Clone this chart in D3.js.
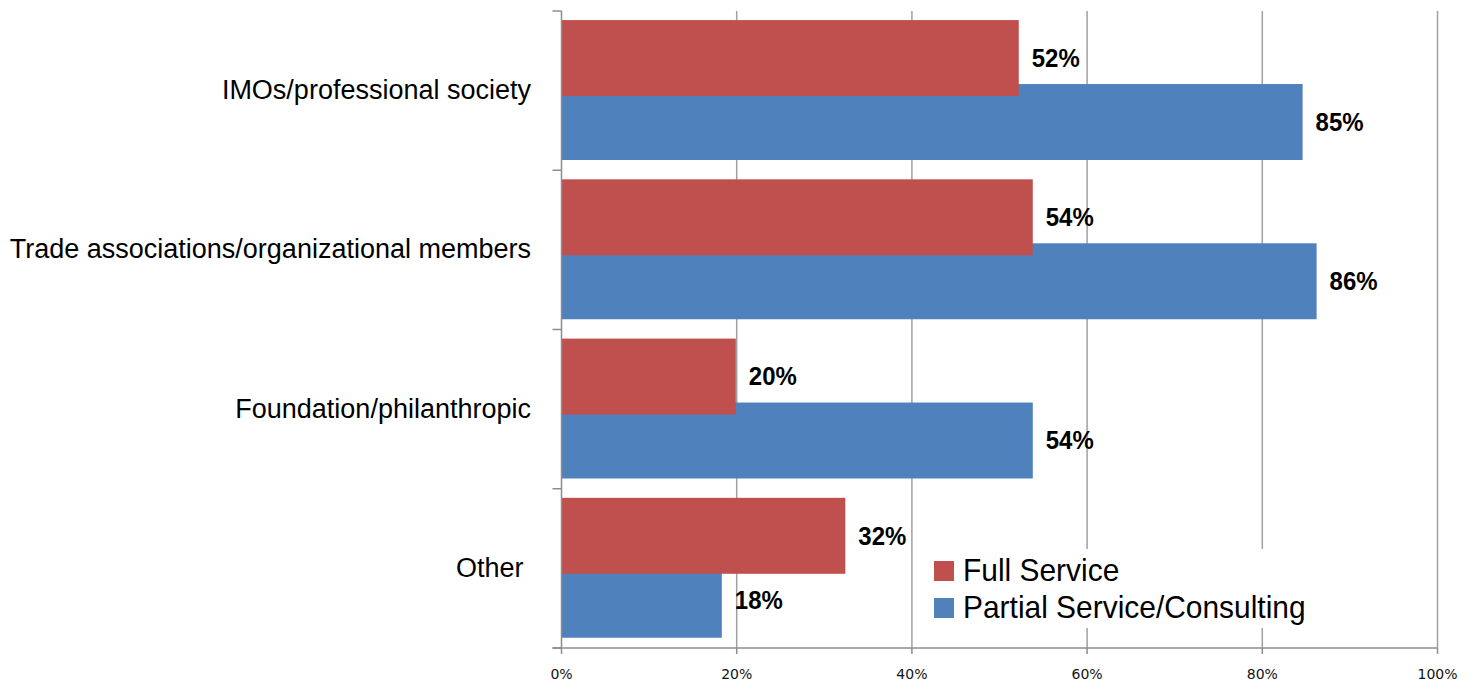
<!DOCTYPE html>
<html>
<head>
<meta charset="utf-8">
<script src="https://cdn.jsdelivr.net/npm/d3@7"></script>
<style>
  body { margin: 0; background: #fff; }
  .narrow { font-family: "Liberation Sans Narrow", "Arial Narrow", "Liberation Sans", Arial, sans-serif; }
</style>
</head>
<body>
<svg id="chart" width="1475" height="682"></svg>
<script>
// chart data
const categories = ["IMOs/professional society", "Trade associations/organizational members", "Foundation/philanthropic", "Other "];
const seriesNames = ["Full Service", "Partial Service/Consulting"];
const fullService = [0.522, 0.538, 0.199, 0.324];
const partialService = [0.846, 0.862, 0.538, 0.183];
const fullLabels = ["52%", "54%", "20%", "32%"];
const partialLabels = ["85%", "86%", "54%", "18%"];
const xTicks = [0, 0.2, 0.4, 0.6, 0.8, 1.0];

const colors = { full: "#C0504D", partial: "#4F81BD" };

const svg = d3.select("#chart");

const plotLeft = 561.5, plotRight = 1437.5, plotTop = 11, plotBottom = 648;

const x = d3.scaleLinear().domain([0, 1]).range([plotLeft, plotRight]);
const y = d3.scaleBand().domain(categories).range([plotTop, plotBottom]).padding(0);

const barH = y.bandwidth() * 0.477;      // ~76px
const redOff = y.bandwidth() * 0.057;    // gap above first bar
const blueOff = redOff + barH * 0.842;   // overlap between the two bars

// vertical gridlines
svg.append("g")
    .selectAll("line")
    .data(xTicks.slice(1))
    .enter().append("line")
    .attr("x1", d => x(d)).attr("x2", d => x(d))
    .attr("y1", plotTop).attr("y2", plotBottom)
    .attr("stroke", "#a0a0a0")
    .attr("stroke-width", 1.5);

// bars: blue first, red drawn on top
const rows = categories.map((c, i) => ({ cat: c, full: fullService[i], partial: partialService[i], fl: fullLabels[i], pl: partialLabels[i] }));

svg.append("g").selectAll("rect")
    .data(rows).enter().append("rect")
    .attr("x", x(0))
    .attr("y", d => y(d.cat) + blueOff)
    .attr("width", d => x(d.partial) - x(0))
    .attr("height", barH)
    .attr("fill", colors.partial);

svg.append("g").selectAll("rect")
    .data(rows).enter().append("rect")
    .attr("x", x(0))
    .attr("y", d => y(d.cat) + redOff)
    .attr("height", barH)
    .attr("width", d => x(d.full) - x(0))
    .attr("fill", colors.full);

// value labels (slightly condensed, like Arial Narrow)
const squeeze = 0.94;
const labelG = svg.append("g").attr("class", "narrow")
    .attr("font-weight", "bold").attr("font-size", 25.5).attr("fill", "#000");

labelG.selectAll(".lf").data(rows).enter().append("text")
    .attr("transform", d => `translate(${x(d.full) + 13},${y(d.cat) + redOff + barH / 2}) scale(${squeeze},1)`)
    .attr("dy", "0.35em")
    .text(d => d.fl);

labelG.selectAll(".lp").data(rows).enter().append("text")
    .attr("transform", d => `translate(${x(d.partial) + 13},${y(d.cat) + blueOff + barH / 2}) scale(${squeeze},1)`)
    .attr("dy", "0.35em")
    .text(d => d.pl);

// left axis
const axisColor = "#8c8c8c";
svg.append("line")
    .attr("x1", plotLeft).attr("x2", plotLeft).attr("y1", plotTop).attr("y2", plotBottom)
    .attr("stroke", axisColor).attr("stroke-width", 1.5);
const bounds = categories.map(c => y(c)).concat([plotBottom]);
svg.append("g").selectAll("line").data(bounds).enter().append("line")
    .attr("x1", plotLeft - 9).attr("x2", plotLeft)
    .attr("y1", d => d).attr("y2", d => d)
    .attr("stroke", axisColor).attr("stroke-width", 1.5);

// bottom axis
svg.append("line")
    .attr("x1", plotLeft - 9).attr("x2", plotRight).attr("y1", plotBottom).attr("y2", plotBottom)
    .attr("stroke", axisColor).attr("stroke-width", 1.5);
svg.append("g").selectAll("line").data(xTicks).enter().append("line")
    .attr("x1", d => x(d)).attr("x2", d => x(d))
    .attr("y1", plotBottom).attr("y2", plotBottom + 6)
    .attr("stroke", axisColor).attr("stroke-width", 1.5);
svg.append("g").selectAll("text").data(xTicks).enter().append("text")
    .attr("x", d => x(d))
    .attr("y", 679)
    .attr("text-anchor", "middle")
    .attr("font-family", "'DejaVu Sans', sans-serif")
    .attr("font-size", 14)
    .attr("fill", "#111")
    .text(d3.format(".0%"));

// category labels
svg.append("g").attr("class", "narrow")
    .selectAll("text").data(categories).enter().append("text")
    .attr("x", 531)
    .attr("y", d => y(d) + y.bandwidth() / 2 - 1)
    .attr("dy", "0.35em")
    .attr("text-anchor", "end")
    .attr("font-size", 27)
    .attr("fill", "#000")
    .style("white-space", "pre")
    .text(d => d);

// legend, white box hides the gridlines behind it
const legend = svg.append("g").attr("class", "narrow");
legend.append("rect")
    .attr("x", 922).attr("y", 549).attr("width", 395).attr("height", 79)
    .attr("fill", "#fff");
const legendItems = [
    { name: seriesNames[0], color: colors.full },
    { name: seriesNames[1], color: colors.partial }
];
legendItems.forEach((it, i) => {
    legend.append("rect")
        .attr("x", 934).attr("y", 561 + i * 37)
        .attr("width", 20).attr("height", 20)
        .attr("fill", it.color);
    legend.append("text")
        .attr("transform", `translate(963,${581 + i * 36.5}) scale(0.95,1)`)
        .attr("font-size", 31.5)
        .attr("fill", "#000")
        .text(it.name);
});
</script>
</body>
</html>
